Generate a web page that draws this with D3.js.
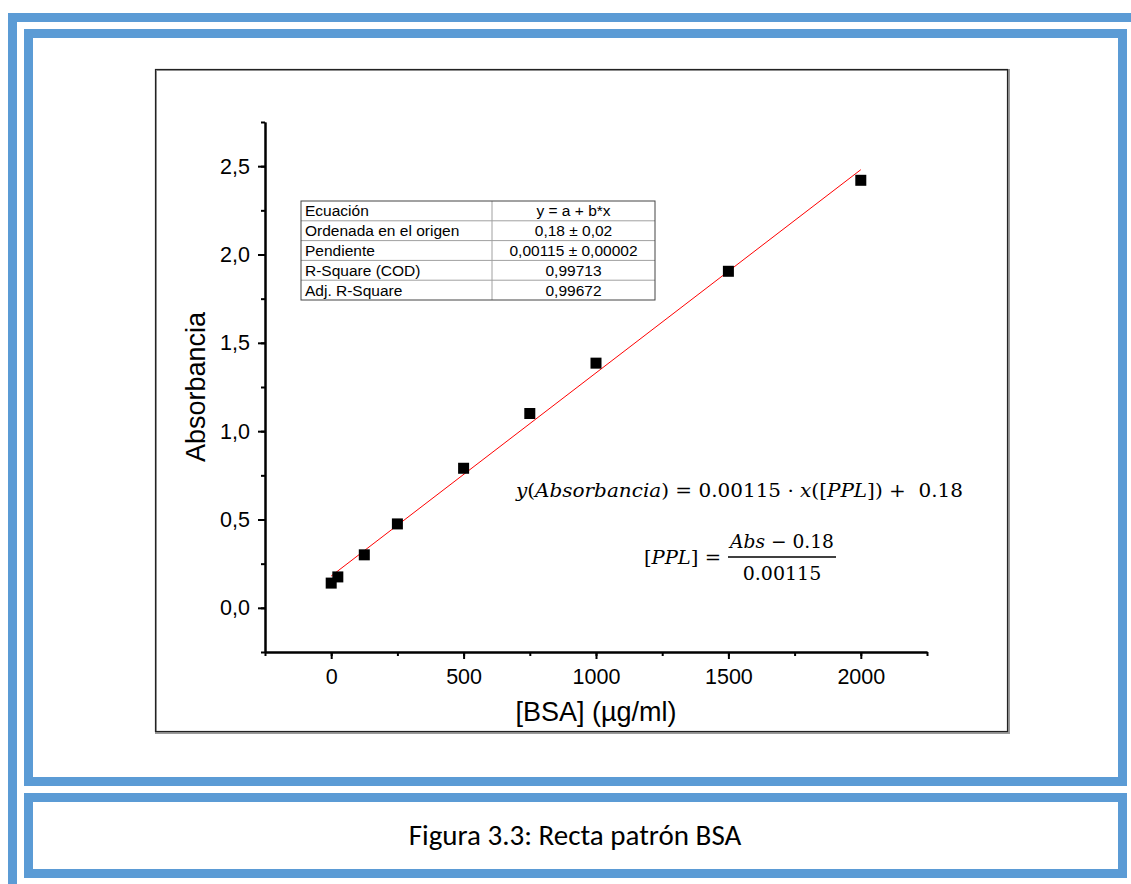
<!DOCTYPE html>
<html>
<head>
<meta charset="utf-8">
<script src="https://cdn.jsdelivr.net/npm/d3@7"></script>
<style>
  body { margin: 0; background: #fff; }
  svg { display: block; }
</style>
</head>
<body>
<div id="chart"></div>
<script>
// data
const concentrations = [0, 25, 125, 250, 500, 750, 1000, 1500, 2000];
const absorbances = [0.14, 0.175, 0.30, 0.475, 0.79, 1.10, 1.385, 1.905, 2.42];
const fitIntercept = 0.18;
const fitSlope = 0.00115;
const xTicks = [0, 500, 1000, 1500, 2000];
const yTicks = [0, 0.5, 1.0, 1.5, 2.0, 2.5];
const tableLabels = ["Ecuación", "Ordenada en el origen", "Pendiente", "R-Square (COD)", "Adj. R-Square"];
const tableValues = ["y = a + b*x", "0,18 ± 0,02", "0,00115 ± 0,00002", "0,99713", "0,99672"];
const caption = "Figura 3.3: Recta patrón BSA";

const W = 1131, H = 884;
const blue = "#5b9bd5";

const svg = d3.select("#chart").append("svg")
    .attr("width", W)
    .attr("height", H);

// page frames
svg.append("rect").attr("x", 12.5).attr("y", 17.5).attr("width", 1140).attr("height", 900)
    .attr("fill", "none").attr("stroke", blue).attr("stroke-width", 9);
svg.append("rect").attr("x", 28.5).attr("y", 33.5).attr("width", 1094).attr("height", 748)
    .attr("fill", "none").attr("stroke", blue).attr("stroke-width", 9);
svg.append("rect").attr("x", 28.5).attr("y", 797.5).attr("width", 1094).attr("height", 76)
    .attr("fill", "none").attr("stroke", blue).attr("stroke-width", 9);

svg.append("text")
    .attr("x", 575).attr("y", 845)
    .attr("text-anchor", "middle")
    .attr("font-family", "Carlito, 'Open Sans', sans-serif")
    .attr("font-size", 29)
    .text(caption);

// chart box
svg.append("rect").attr("x", 156).attr("y", 70).attr("width", 853).attr("height", 663)
    .attr("fill", "#fff").attr("stroke", "#9a9a9a").attr("stroke-width", 2);
svg.append("rect").attr("x", 155.5).attr("y", 69.5).attr("width", 852).attr("height", 662)
    .attr("fill", "none").attr("stroke", "#222").attr("stroke-width", 1.2);

const x = d3.scaleLinear().domain([-250, 2250]).range([265, 927]);
const y = d3.scaleLinear().domain([-0.25, 2.75]).range([652, 122]);

const loc = d3.formatLocale({decimal: ",", thousands: "", grouping: [3], currency: ["", ""]});
const fmtY = loc.format(".1f");
const fmtX = loc.format("d");

const font = "'Liberation Sans', Arial, sans-serif";

// minor ticks
const xMinor = d3.range(-250, 2251, 250);
const yMinor = d3.range(-0.25, 2.76, 0.25);

const gxMinor = svg.append("g").attr("transform", `translate(0,${y(-0.25)})`)
    .call(d3.axisBottom(x).tickValues(xMinor).tickSize(4).tickSizeOuter(0).tickFormat(""));
const gyMinor = svg.append("g").attr("transform", `translate(${x(-250)},0)`)
    .call(d3.axisLeft(y).tickValues(yMinor).tickSize(4).tickSizeOuter(0).tickFormat(""));

const gx = svg.append("g").attr("transform", `translate(0,${y(-0.25)})`)
    .call(d3.axisBottom(x).tickValues(xTicks).tickSize(7).tickSizeOuter(0).tickPadding(7).tickFormat(fmtX));
const gy = svg.append("g").attr("transform", `translate(${x(-250)},0)`)
    .call(d3.axisLeft(y).tickValues(yTicks).tickSize(7).tickSizeOuter(0).tickPadding(8).tickFormat(fmtY));

[gxMinor, gyMinor, gx, gy].forEach(g => {
    g.attr("font-family", font).attr("font-size", 21.5);
    g.selectAll("path, line").attr("stroke", "#000").attr("stroke-width", 2);
    g.selectAll("text").attr("fill", "#000");
});
gx.selectAll("text").attr("dy", "0.85em");

// axis titles
svg.append("text")
    .attr("transform", `translate(205,${y(1.25)}) rotate(-90)`)
    .attr("text-anchor", "middle")
    .attr("font-family", font).attr("font-size", 27)
    .text("Absorbancia");
svg.append("text")
    .attr("x", x(1000)).attr("y", 721)
    .attr("text-anchor", "middle")
    .attr("font-family", font).attr("font-size", 27)
    .text("[BSA] (µg/ml)");

// fit line
svg.append("line")
    .attr("x1", x(0)).attr("y1", y(fitIntercept))
    .attr("x2", x(2000)).attr("y2", y(fitIntercept + fitSlope * 2000))
    .attr("stroke", "#ff0000").attr("stroke-width", 1);

// points
const sq = 11;
svg.append("g").selectAll("rect")
    .data(concentrations.map((c, i) => ({c, a: absorbances[i]})))
    .join("rect")
    .attr("x", d => x(d.c) - sq / 2)
    .attr("y", d => y(d.a) - sq / 2)
    .attr("width", sq).attr("height", sq)
    .attr("fill", "#000");

// results table
const tx = 301, ty = 201, tw = 354, rowH = 19.8, colX = 492;
const table = svg.append("g");
tableLabels.forEach((lab, i) => {
    if (i > 0) {
        table.append("line")
            .attr("x1", tx).attr("x2", tx + tw)
            .attr("y1", ty + i * rowH).attr("y2", ty + i * rowH)
            .attr("stroke", "#a0a0a0").attr("stroke-width", 1);
    }
    table.append("text")
        .attr("x", tx + 4).attr("y", ty + i * rowH + rowH / 2 + 5.5)
        .attr("font-family", font).attr("font-size", 15.5)
        .text(lab);
    table.append("text")
        .attr("x", (colX + tx + tw) / 2).attr("y", ty + i * rowH + rowH / 2 + 5.5)
        .attr("text-anchor", "middle")
        .attr("font-family", font).attr("font-size", 15.5)
        .text(tableValues[i]);
});
table.append("line")
    .attr("x1", colX).attr("x2", colX).attr("y1", ty).attr("y2", ty + 5 * rowH)
    .attr("stroke", "#a0a0a0").attr("stroke-width", 1);
table.append("rect")
    .attr("x", tx).attr("y", ty).attr("width", tw).attr("height", 5 * rowH)
    .attr("fill", "none").attr("stroke", "#444").attr("stroke-width", 1);

// equations
const serif = "'DejaVu Serif', 'Liberation Serif', serif";
const eq1 = svg.append("text")
    .attr("x", 516).attr("y", 497)
    .attr("font-family", serif).attr("font-size", 19);
eq1.append("tspan").attr("font-style", "italic").text("y");
eq1.append("tspan").text("(");
eq1.append("tspan").attr("font-style", "italic").text("Absorbancia");
eq1.append("tspan").text(") = 0.00115 · ");
eq1.append("tspan").attr("font-style", "italic").text("x");
eq1.append("tspan").text("([");
eq1.append("tspan").attr("font-style", "italic").text("PPL");
eq1.append("tspan").text("]) +\u00a0\u00a00.18");
eq1.attr("textLength", 447).attr("lengthAdjust", "spacingAndGlyphs");

const eq2 = svg.append("text")
    .attr("x", 644).attr("y", 564)
    .attr("font-family", serif).attr("font-size", 19);
eq2.append("tspan").text("[");
eq2.append("tspan").attr("font-style", "italic").text("PPL");
eq2.append("tspan").text("] =");
eq2.attr("textLength", 77).attr("lengthAdjust", "spacingAndGlyphs");

const num = svg.append("text")
    .attr("x", 782).attr("y", 548)
    .attr("text-anchor", "middle")
    .attr("font-family", serif).attr("font-size", 19);
num.append("tspan").attr("font-style", "italic").text("Abs");
num.append("tspan").text(" − 0.18");
num.attr("textLength", 104).attr("lengthAdjust", "spacingAndGlyphs");

svg.append("line")
    .attr("x1", 728).attr("x2", 836).attr("y1", 557).attr("y2", 557)
    .attr("stroke", "#000").attr("stroke-width", 1.3);

svg.append("text")
    .attr("x", 782).attr("y", 580)
    .attr("text-anchor", "middle")
    .attr("font-family", serif).attr("font-size", 19)
    .text("0.00115");
</script>
</body>
</html>
